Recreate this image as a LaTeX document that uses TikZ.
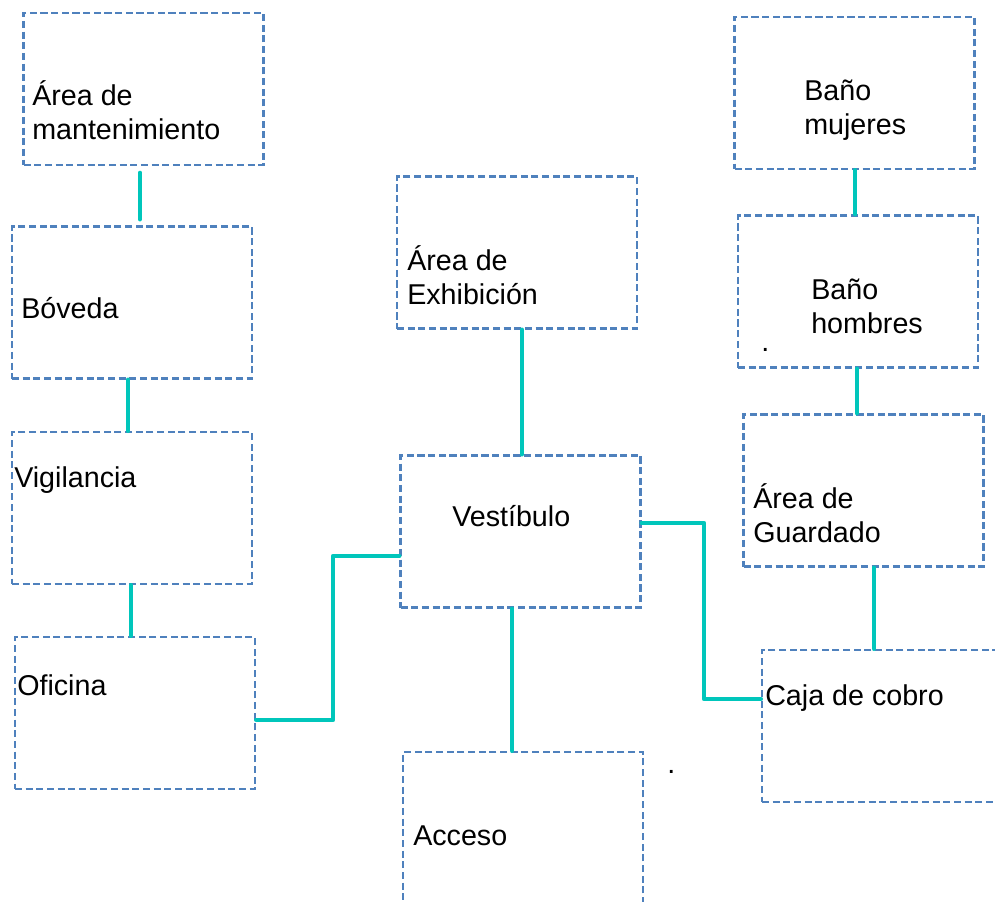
\documentclass[tikz,border=0pt]{standalone}
\usepackage{fontspec}
\setmainfont{Liberation Sans}
\definecolor{azul}{HTML}{4F81BD}
\definecolor{turquesa}{HTML}{00C6BB}
\tikzset{
  sala/.style={draw=azul, line width=2pt, dash pattern=on 5.3pt off 2.7pt, minimum width=180pt, minimum height=114pt, inner sep=0pt},
  texto/.style={anchor=base west, inner sep=0pt, align=left, font=\fontsize{21.5}{25.5}\selectfont},
  enlace/.style={draw=turquesa, line width=3.5pt, line cap=round, line join=round}
}
\begin{document}
\begin{tikzpicture}[x=0.75pt, y=-0.75pt]
			\useasboundingbox (0,0) rectangle (995,902);
			\clip (0,0) rectangle (995,902);
			
			%
			\node[sala] (Mant) at (143.5, 89) {};
			\node[sala] (Bov) at (132, 302.5) {};
			\node[sala] (Vig) at (132, 508) {};
			\node[sala] (Ofi) at (135, 713) {};
			\node[sala] (Exh) at (517, 252.5) {};
			\node[sala] (Vest) at (520.5, 531.5) {};
			\node[sala, minimum height=150pt] (Acc) at (523, 852) {};
			\node[sala] (BanoM) at (854.5, 93) {};
			\node[sala] (BanoH) at (858, 291.5) {};
			\node[sala] (Guar) at (863.5, 490.5) {};
			\node[sala, minimum width=240pt] (Caja) at (922, 726) {};
			
			\node[texto] (tMant) at (32, 140) {Área de\\mantenimiento};
			\node[texto] (tBov) at (21, 318) {Bóveda};
			\node[texto] (tVig) at (14, 487) {Vigilancia};
			\node[texto] (tOfi) at (17, 695) {Oficina};
			\node[texto] (tExh) at (407, 304) {Área de\\Exhibición};
			\node[texto] (tVest) at (452, 526) {Vestíbulo};
			\node[texto] (tAcc) at (413, 845) {Acceso};
			\node[texto] (tBanoM) at (804, 135) {Baño\\mujeres};
			\node[texto] (tBanoH) at (811, 333) {Baño\\hombres};
			\node[texto] (tGuar) at (753, 542) {Área de\\Guardado};
			\node[texto] (tCaja) at (765, 705) {Caja de cobro};
			\node[texto] (p1) at (761, 351) {.};
			\node[texto] (p2) at (667, 773) {.};
			
			\draw[enlace, shorten <=5pt, shorten >=4.5pt] (Mant.south -| 140,0) -- (Bov.north -| 140,0);
			\draw[enlace] (Bov.south -| 128,0) -- (Vig.north -| 128,0);
			\draw[enlace] (Vig.south -| 131,0) -- (Ofi.north -| 131,0);
			\draw[enlace] (Exh.south -| 522,0) -- (Vest.north -| 522,0);
			\draw[enlace] (Vest.south -| 512,0) -- (Acc.north -| 512,0);
			\draw[enlace] (BanoM.south -| 855,0) -- (BanoH.north -| 855,0);
			\draw[enlace] (BanoH.south -| 857,0) -- (Guar.north -| 857,0);
			\draw[enlace] (Guar.south -| 874,0) -- (Caja.north -| 874,0);
			\draw[enlace] (Ofi.east |- 0,720) -| (333,556) -- (Vest.west |- 0,556);
			\draw[enlace] (Vest.east |- 0,523) -| (704,699) -- (Caja.west |- 0,699);
	\end{tikzpicture}
\end{document}
